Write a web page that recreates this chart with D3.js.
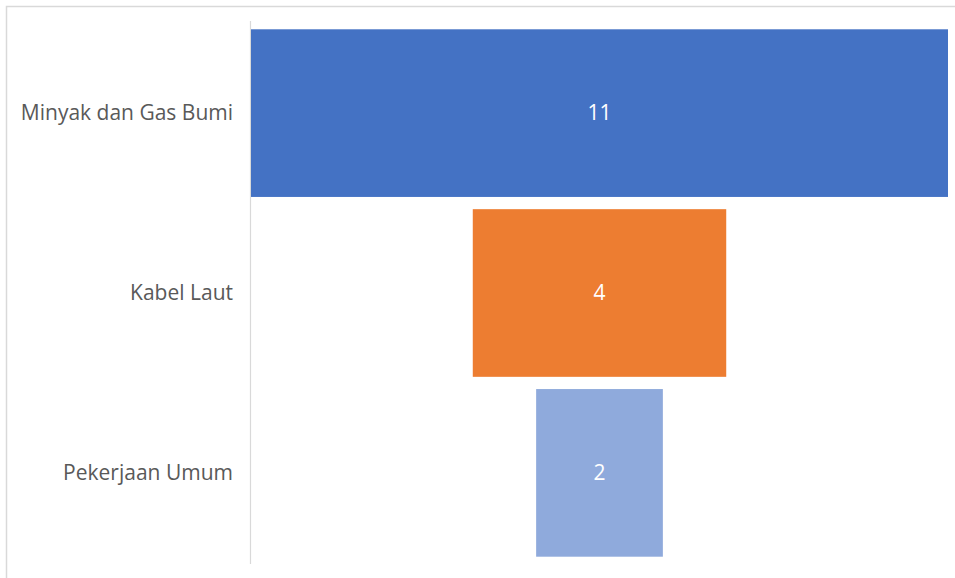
<!DOCTYPE html>
<html>
<head>
    <script src="https://d3js.org/d3.v7.min.js"></script>
    <style>
        body { margin: 0; background: #fff; }
        .label { font-family: "Open Sans", sans-serif; font-size: 21px; fill: #595959; }
        .value { font-family: "Open Sans", sans-serif; font-size: 21px; fill: #fff; }
    </style>
</head>
<body>
    <svg id="chart" width="955" height="578"></svg>
    <script>
        // data
        var categories = ["Minyak dan Gas Bumi", "Kabel Laut", "Pekerjaan Umum"];
        var values = [11, 4, 2];
        var colors = ["#4472C4", "#ED7D31", "#8FAADC"];

        var svg = d3.select("#chart");

        // chart border (runs off the right/bottom edge)
        svg.append("rect")
            .attr("x", 6.5).attr("y", 6.5)
            .attr("width", 1000).attr("height", 1000)
            .attr("fill", "none")
            .attr("stroke", "#d9d9d9")
            .attr("stroke-width", 1.5);

        var plotLeft = 251, plotRight = 948;
        var center = (plotLeft + plotRight) / 2;

        var y = d3.scaleBand()
            .domain(categories)
            .range([23, 563])
            .paddingInner(0.068)
            .paddingOuter(0.035);

        var w = d3.scaleLinear()
            .domain([0, d3.max(values)])
            .range([0, plotRight - plotLeft]);

        // axis line
        svg.append("line")
            .attr("x1", 250.5).attr("x2", 250.5)
            .attr("y1", 21).attr("y2", 564)
            .attr("stroke", "#d9d9d9")
            .attr("stroke-width", 1.2);

        var rows = categories.map((c, i) => ({ cat: c, val: values[i], color: colors[i] }));

        svg.append("g")
            .selectAll("rect")
            .data(rows)
            .enter()
            .append("rect")
            .attr("x", d => center - w(d.val) / 2)
            .attr("y", d => y(d.cat))
            .attr("width", d => w(d.val))
            .attr("height", y.bandwidth())
            .attr("fill", d => d.color);

        svg.append("g")
            .selectAll("text")
            .data(rows)
            .enter()
            .append("text")
            .attr("class", "value")
            .attr("x", center)
            .attr("y", d => y(d.cat) + y.bandwidth() / 2)
            .attr("dy", "0.35em")
            .attr("text-anchor", "middle")
            .text(d => d.val);

        svg.append("g")
            .selectAll("text")
            .data(rows)
            .enter()
            .append("text")
            .attr("class", "label")
            .attr("x", 233)
            .attr("y", d => y(d.cat) + y.bandwidth() / 2)
            .attr("dy", "0.35em")
            .attr("text-anchor", "end")
            .text(d => d.cat);
    </script>
</body>
</html>
